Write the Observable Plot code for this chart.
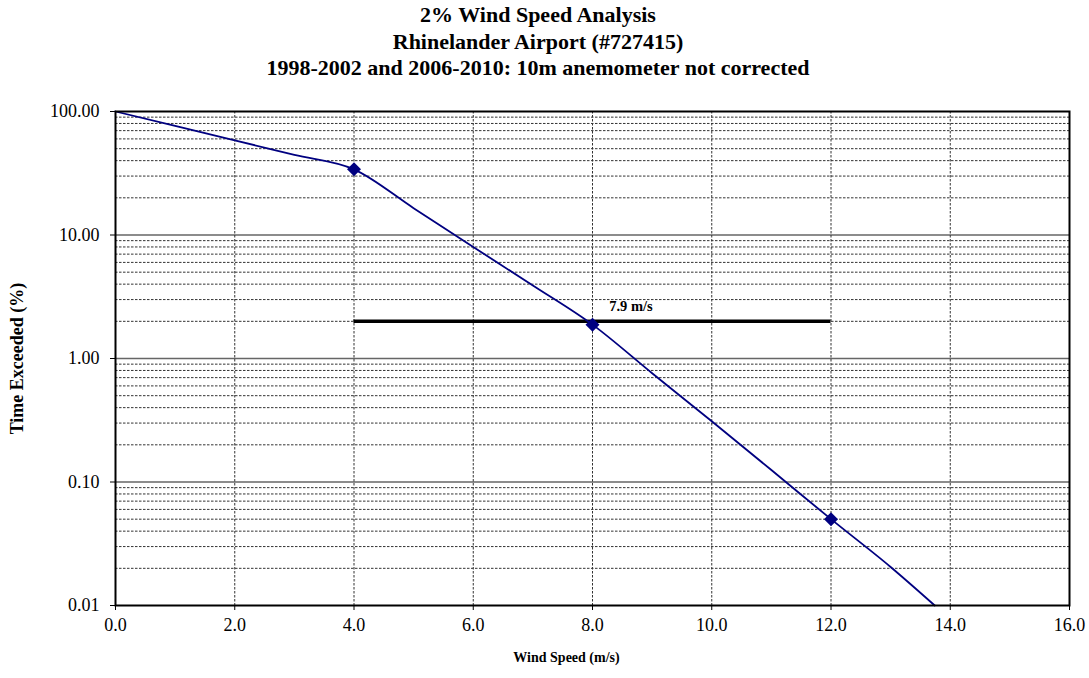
<!DOCTYPE html>
<html>
<head>
<meta charset="utf-8">
<script src="https://cdn.jsdelivr.net/npm/d3@7"></script>
<script src="https://cdn.jsdelivr.net/npm/@observablehq/plot@0.6"></script>
<style>
  html, body { margin: 0; padding: 0; background: white; }
  #wrap { position: relative; width: 1089px; height: 678px; font-family: "Liberation Serif", "Times New Roman", serif; }
  .title { position: absolute; left: 0; width: 1076px; text-align: center; font-weight: bold; font-size: 22px; line-height: 24px; color: #000; font-family: "Liberation Serif", "Times New Roman", serif; }
  #chart { position: absolute; left: 0; top: 90px; }
  #chart svg, #chart svg text, #chart svg g { font-family: "Liberation Serif", "Times New Roman", serif !important; }
</style>
</head>
<body>
<div id="wrap">
  <div class="title" style="top:3px">2% Wind Speed Analysis</div>
  <div class="title" style="top:30px">Rhinelander Airport (#727415)</div>
  <div class="title" style="top:56px">1998-2002 and 2006-2010: 10m anemometer not corrected</div>
  <div id="chart"></div>
</div>
<script>
// Exceedance curve (wind speed m/s vs % time exceeded)
const speed  = [0, 1, 2, 3, 4, 5, 6, 7, 8, 9, 10, 11, 12, 13, 13.74];
const exceed = [100, 76.4, 58.4, 44.5, 34, 16.5, 8.0, 3.9, 1.88, 0.76, 0.31, 0.125, 0.05, 0.0205, 0.01];

// Marked points
const markerSpeed  = [4, 8, 12];
const markerExceed = [34, 1.88, 0.05];

// 2% threshold line and its label
const thresholdPct = [2];
const thresholdFrom = [4];
const thresholdTo = [12];
const thresholdLabel = ["7.9 m/s"];
const labelSpeed = [8.28];
const labelExceed = [2.65];

// Axis ticks
const xTicks = [0, 2, 4, 6, 8, 10, 12, 14, 16];
const yTicks = [0.01, 0.1, 1, 10, 100];
const minorMult = [2, 3, 4, 5, 6, 7, 8, 9];

const curve = speed.map((s, i) => ({s, p: exceed[i]}));
const markers = markerSpeed.map((s, i) => ({s, p: markerExceed[i]}));
const threshold = thresholdPct.map((p, i) => ({p, x1: thresholdFrom[i], x2: thresholdTo[i]}));
const labels = thresholdLabel.map((t, i) => ({t, s: labelSpeed[i], p: labelExceed[i]}));
const minorGrid = yTicks.slice(0, -1).flatMap(d => minorMult.map(m => d * m));

const serif = "'Liberation Serif', 'Times New Roman', serif";

const chart = Plot.plot({
  width: 1089,
  height: 588,
  marginTop: 21,
  marginBottom: 73,
  marginLeft: 115,
  marginRight: 20,
  style: {fontFamily: serif, fontSize: "18px", color: "#000", background: "white"},
  x: {domain: [0, 16]},
  y: {type: "log", domain: [0.01, 100]},
  marks: [
    Plot.ruleY(minorGrid, {stroke: "#333", strokeDasharray: "2.5,1.5", strokeWidth: 1}),
    Plot.ruleY(yTicks.slice(1, -1), {stroke: "#666", strokeWidth: 1.5}),
    Plot.ruleX(xTicks.slice(1, -1), {stroke: "#333", strokeDasharray: "2.5,1.5", strokeWidth: 1}),
    Plot.axisX(xTicks, {tickFormat: d3.format(".1f"), tickSize: 5, tickPadding: 8, label: null, fontSize: 18, fontFamily: serif}),
    Plot.axisY(yTicks, {tickFormat: d3.format(".2f"), tickSize: 5, tickPadding: 11, label: null, fontSize: 18, fontFamily: serif}),
    Plot.ruleY(threshold, {y: "p", x1: "x1", x2: "x2", stroke: "black", strokeWidth: 3.5}),
    Plot.line(curve, {x: "s", y: "p", stroke: "#000080", strokeWidth: 1.8, curve: "monotone-x"}),
    Plot.dot(markers, {x: "s", y: "p", symbol: "diamond2", r: 6.3, fill: "#000080", stroke: "none"}),
    Plot.text(labels, {x: "s", y: "p", text: "t", textAnchor: "start", fontWeight: "bold", fontSize: 14.5, fontFamily: serif}),
    Plot.frame({stroke: "#000", strokeWidth: 2}),
    Plot.text(["Time Exceeded (%)"], {frameAnchor: "left", textAnchor: "middle", rotate: -90, dx: -98, fontWeight: "bold", fontSize: 18, fontFamily: serif}),
    Plot.text(["Wind Speed (m/s)"], {frameAnchor: "bottom", textAnchor: "middle", dx: -26, dy: 56, fontWeight: "bold", fontSize: 14, fontFamily: serif})
  ]
});
document.getElementById("chart").appendChild(chart);
</script>
</body>
</html>
